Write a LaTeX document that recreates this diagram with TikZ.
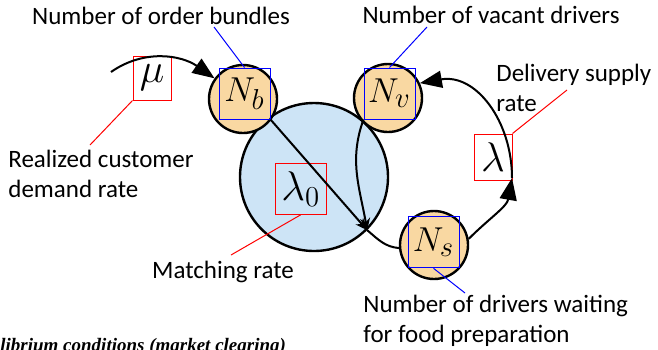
\documentclass[tikz,border=0pt]{standalone}
\usepackage[no-math]{fontspec}
\setmainfont{Carlito}
\newfontfamily\capfont{Liberation Serif}
\usetikzlibrary{arrows.meta, positioning, calc}
\definecolor{mOrange}{HTML}{F9D8A2}
\definecolor{mBlue}{HTML}{CDE4F6}

\begin{document}
\begin{tikzpicture}[x=0.5pt, y=0.5pt,
    state/.style={circle, draw, line width=1.2pt, fill=mOrange, minimum size=34pt, inner sep=0pt},
    pool/.style={circle, draw, line width=1.2pt, fill=mBlue, minimum size=74pt, inner sep=0pt},
    varbox/.style={draw=blue, line width=0.5pt, minimum size=25.5pt, inner sep=0pt, font=\fontsize{19}{19}\selectfont},
    ratebox/.style={draw=red, line width=0.5pt, inner sep=0pt, font=\fontsize{20}{20}\selectfont},
    flow/.style={line width=1pt, -{Triangle[length=11pt, width=8.5pt]}},
    merge/.style={line width=1pt, -{Stealth[length=6pt, width=5pt]}},
    note/.style={font=\fontsize{12.5}{15}\selectfont, align=left, inner sep=0pt},
    blueline/.style={blue, line width=0.5pt},
    redline/.style={red, line width=0.5pt}]
    \useasboundingbox (0,0) rectangle (658,-349);

    % stocks
    \node[pool] (pool) at (314,-177) {};
    \node[state] (Nb) at (243,-99) {};
    \node[state] (Nv) at (388,-98) {};
    \node[state] (Ns) at (434,-245) {};
    \node[varbox] (Nbl) at (244.5,-93.5) {$N_b$};
    \node[varbox] (Nvl) at (389.5,-93.5) {$N_v$};
    \node[varbox] (Nsl) at (433.5,-242.3) {$N_s$};

    % rates
    \node[ratebox, minimum width=19pt, minimum height=22pt] (mu) at (152,-78) {$\mu$};
    \node[ratebox, minimum width=19pt, minimum height=23pt] (lam) at (493,-157) {$\lambda$};
    \node[ratebox, minimum size=25.5pt] (lam0) at (300.7,-188.8) {$\lambda_0$};

    \coordinate (muin) at (111,-72);
    \coordinate (mtch) at (pool.-45);
    \coordinate (lamtip) at (512,-178);
    \draw[flow] (muin) to[out=35, in=145] (Nb.144);
    \draw[merge] (Nbl.south east) -- (mtch);
    \draw[merge] (Nvl.south west) to[out=-110, in=100] (mtch);
    \draw[line width=1pt] (mtch) to[out=-40, in=175] (Ns.185);
    \draw[flow] (Ns.10) to[out=45, in=-100] (lamtip);
    \draw[flow] (lamtip) to[out=90, in=10, looseness=1.1] (Nv.25);

    % labels
    \node[note] (NbTxt) at (161,-16) {Number of order bundles};
    \node[note] (NvTxt) at (491,-15) {Number of vacant drivers};
    \node[note, anchor=west] (dsTxt) at (496,-88) {Delivery supply\\rate};
    \node[note, anchor=west] (rcTxt) at (8,-174) {Realized customer\\demand rate};
    \node[note] (mrTxt) at (223,-272) {Matching rate};
    \node[note, anchor=west] (wdTxt) at (363,-321) {Number of drivers waiting\\for food preparation};
    \node[anchor=base west, inner sep=0pt, font=\capfont\bfseries\itshape\fontsize{9.5}{11}\selectfont] (eqTxt) at (0,-351) {librium conditions (market clearing)};

    \coordinate (NbTip) at (214,-27);
    \coordinate (NvTip) at (427,-27);
    \coordinate (dsTip) at (567,-90);
    \coordinate (rcTip) at (90,-145);
    \coordinate (mrTip) at (231,-255);
    \coordinate (wdTip) at (465,-293);
    \draw[blueline] (NbTip) -- (Nbl.north);
    \draw[blueline] (NvTip) -- (Nvl.north);
    \draw[blueline] (wdTip) -- (Nsl.south);
    \draw[redline] (dsTip) -- (lam.north east);
    \draw[redline] (rcTip) -- (mu.south west);
    \draw[redline] (mrTip) -- (lam0.south);
\end{tikzpicture}
\end{document}
